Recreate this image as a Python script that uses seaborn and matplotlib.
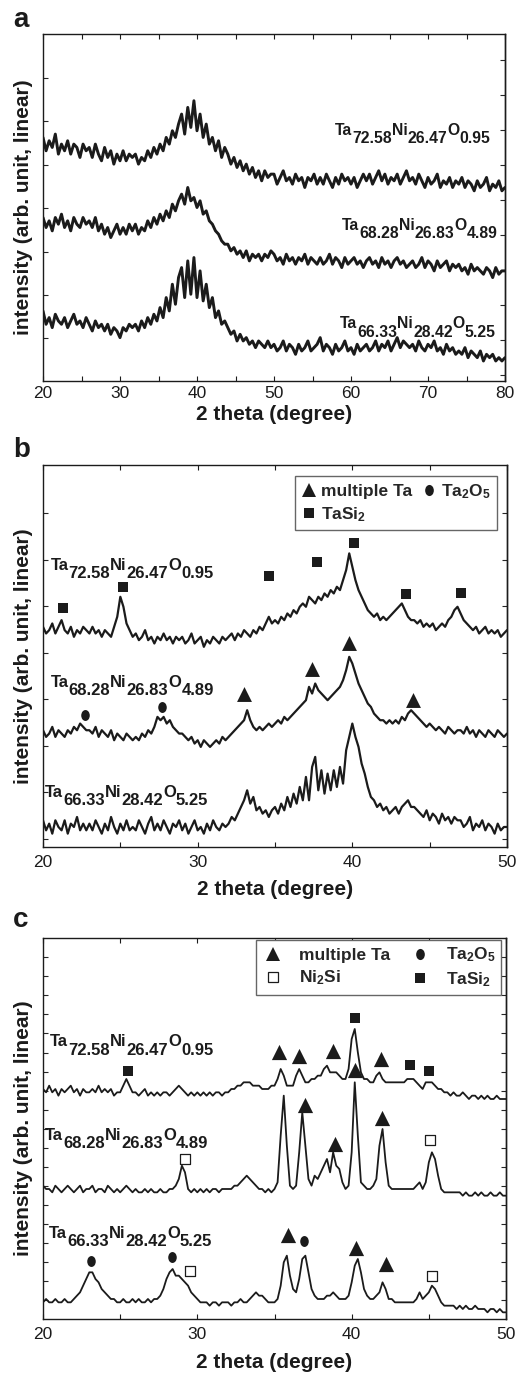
import numpy as np
import pandas as pd
import matplotlib
matplotlib.use("Agg")
import matplotlib.pyplot as plt
from matplotlib.lines import Line2D
from matplotlib.path import Path
from matplotlib.transforms import Affine2D
import seaborn as sns

# %%
# panel a : 2 theta 20-80, one reading every 0.4 deg
a_x = np.linspace(20, 80, 151)
a_top = [
  73,69,72,70,74,68,71,69,72,68,71,70,67,71,69,
  70,67,71,68,66,70,67,69,65,68,66,69,66,68,67,
  68,65,67,66,69,67,70,68,71,69,73,71,75,73,77,
  80,74,82,76,84,75,80,73,77,71,73,69,72,67,70,
  68,65,67,64,66,63,65,62,64,61,63,60,63,61,62,
  62,59,61,63,60,61,59,62,60,61,58,61,60,62,59,
  61,59,62,60,58,61,59,62,60,61,59,61,58,60,62,
  60,62,59,61,63,60,62,59,61,60,62,59,61,63,60,
  61,59,62,60,58,61,59,60,62,58,60,59,61,58,60,
  59,61,58,60,59,57,60,58,59,61,57,59,58,60,57,
  58]
a_mid = [
  49,46,48,45,49,47,50,46,48,45,49,47,46,49,47,
  48,46,49,45,47,44,46,43,45,47,44,46,44,47,45,
  47,44,46,45,48,46,49,47,50,48,51,49,53,51,54,
  56,53,58,54,55,52,54,50,51,48,47,45,44,42,41,
  41,39,40,38,39,37,39,36,38,37,38,36,38,37,39,
  38,36,37,35,38,36,37,35,37,36,38,35,37,36,35,
  37,35,36,38,35,37,36,34,37,35,36,37,35,36,34,
  36,37,35,36,34,37,35,36,34,36,37,35,36,34,35,
  36,34,35,37,34,36,35,33,36,34,35,36,33,35,34,
  35,33,34,32,35,33,34,33,32,34,33,31,34,32,33,
  33]
a_bot = [
  21,17,19,16,20,18,17,19,16,18,20,17,18,16,19,
  17,15,18,16,17,15,17,14,16,15,13,16,15,17,16,
  17,15,18,16,19,17,20,18,22,19,25,21,29,23,31,
  34,25,36,26,37,25,33,24,29,22,25,19,21,17,18,
  16,14,15,12,14,12,13,11,12,10,12,11,10,12,10,
  11,9,10,12,9,11,10,8,11,9,10,12,9,10,11,
  13,9,11,10,8,11,9,10,12,9,10,8,11,9,10,
  11,9,10,12,9,11,10,12,9,11,13,10,12,11,10,
  11,9,12,10,9,11,10,12,9,10,8,11,9,10,8,
  9,8,10,7,9,8,7,9,6,8,7,8,6,7,6,
  7]

# %%
# panels b, c : 2 theta 20-50, one reading every 0.2 deg
bc_x = np.linspace(20, 50, 151)
b_top = [
  66,64,65,67,64,66,68,65,64,66,63,65,64,66,65,
  64,66,64,65,63,65,64,63,66,69,75,72,67,65,63,
  64,62,63,65,62,63,61,63,62,64,62,63,61,63,62,
  63,61,62,64,61,62,63,60,62,61,63,62,61,63,62,
  63,64,62,64,63,65,64,63,65,64,66,65,67,69,67,
  68,67,69,68,70,69,71,70,72,73,72,75,74,73,75,
  74,76,75,77,76,78,77,80,83,88,84,80,77,75,73,
  71,70,69,70,68,69,68,69,70,71,72,73,71,69,68,
  68,67,68,66,67,66,67,65,66,67,66,68,69,71,72,
  70,68,67,66,65,66,64,65,66,64,65,64,65,63,64,
  65]
b_mid = [
  35,33,34,36,33,35,34,33,35,34,36,35,37,36,35,
  35,34,36,33,35,34,33,35,32,34,33,32,34,33,32,
  33,32,34,33,35,34,36,39,38,39,37,38,36,35,34,
  34,33,32,33,31,32,30,32,31,30,31,32,31,33,32,
  33,34,35,36,37,38,41,38,36,35,36,35,36,37,36,
  37,38,37,39,38,39,40,41,42,43,44,48,46,49,47,
  46,45,44,45,46,47,48,50,53,57,55,52,49,47,45,
  43,42,40,39,38,38,37,38,37,38,37,39,38,40,41,
  40,39,38,37,36,37,36,35,36,35,34,36,35,34,35,
  35,34,36,34,35,33,35,34,33,35,34,33,35,34,33,
  34]
b_bot = [
  8,5,7,4,8,6,5,8,4,7,6,9,5,7,5,
  7,5,8,6,4,7,5,9,6,4,7,5,8,5,6,
  5,8,6,4,7,9,5,7,5,8,6,4,7,6,8,
  5,7,4,6,8,5,6,4,7,5,8,6,5,7,6,
  7,9,8,10,12,14,17,13,15,11,12,10,11,9,11,
  12,10,13,11,15,12,16,13,18,14,21,14,24,27,17,
  23,16,22,17,23,18,24,19,29,33,37,33,30,25,22,
  18,15,14,12,13,11,12,10,11,12,10,12,13,14,12,
  12,11,10,9,11,8,10,9,7,10,8,9,7,9,8,
  8,6,7,9,5,7,6,8,5,7,6,4,7,5,6,
  6]
c_top = [
  69,68,70,68,69,67,69,68,69,70,68,69,67,69,68,
  68,69,68,70,68,69,68,69,67,68,68,70,72,70,68,
  68,67,68,69,67,68,67,68,67,68,68,67,68,69,70,
  69,68,67,68,67,68,67,68,67,68,67,68,68,67,68,
  68,69,69,70,70,71,71,71,70,70,70,69,69,69,70,
  70,72,75,73,70,70,70,73,75,73,71,71,72,72,73,
  73,75,76,74,74,74,73,72,72,75,84,87,80,74,72,
  72,71,71,73,74,72,71,71,71,71,71,71,71,72,72,
  72,71,70,69,71,71,71,70,69,69,68,68,67,68,67,
  67,68,67,66,67,67,66,67,66,67,66,66,67,66,66,
  66]
c_mid = [
  40,39,39,38,40,39,38,39,40,39,38,39,40,38,39,
  39,40,38,39,39,38,40,39,38,39,38,39,40,39,38,
  39,38,38,39,38,39,38,38,39,38,38,39,39,40,42,
  46,44,39,38,39,38,39,38,39,38,39,39,38,39,39,
  39,39,40,40,41,42,43,42,41,40,39,39,38,39,38,
  39,41,55,67,52,40,39,40,50,62,52,42,40,43,42,
  44,46,48,44,50,46,45,41,39,40,50,71,55,41,40,
  39,39,40,42,52,57,47,40,39,39,39,39,39,39,39,
  39,40,41,39,41,47,50,48,43,39,38,38,38,38,38,
  38,37,38,37,37,38,37,38,37,37,38,37,37,38,37,
  37]
c_bot = [
  5,6,5,5,6,5,5,6,5,5,6,7,8,10,12,
  14,14,12,11,9,8,7,6,6,5,5,6,5,5,6,
  5,6,5,5,6,5,6,6,7,9,12,14,15,13,13,
  12,11,10,8,7,6,5,5,5,4,5,5,4,5,5,
  5,4,5,5,6,5,5,6,7,8,7,7,6,5,5,
  5,6,10,17,19,13,9,8,12,18,19,14,9,7,6,
  6,6,7,7,8,7,6,6,6,7,11,16,18,14,9,
  7,6,6,7,8,11,9,6,6,5,5,5,5,5,5,
  5,6,8,6,7,8,10,9,7,5,4,4,4,4,3,
  4,3,4,3,3,4,3,3,3,2,3,3,2,3,2,
  2]

# %%
# phase markers
b_tasi2_x = [21.3, 25.2, 34.6, 37.7, 40.1, 43.5, 47.0]
b_tasi2_y = [71.5, 78.0, 81.3, 85.5, 91.0, 75.8, 76.2]
b_ta_x = [33.0, 37.4, 39.8, 43.9]
b_ta_y = [46.0, 53.5, 61.0, 44.0]
b_ta2o5_x = [22.7, 27.7]
b_ta2o5_y = [39.7, 42.0]

c_ta_x = [35.3, 36.6, 38.8, 41.9, 40.2, 37.0, 38.9, 41.95, 35.9, 40.3, 42.2]
c_ta_y = [80.0, 78.8, 80.3, 78.0, 74.8, 64.3, 52.5, 60.3, 25.3, 21.3, 16.5]
c_tasi2_x = [25.5, 40.2, 43.8, 45.0]
c_tasi2_y = [74.5, 90.3, 76.1, 74.5]
c_ni2si_x = [29.2, 45.1, 29.5, 45.2]
c_ni2si_y = [48.0, 53.8, 14.3, 12.8]
c_ta2o5_x = [23.1, 28.35, 36.9]
c_ta2o5_y = [17.5, 18.6, 23.5]

samples = [
  ["Ta", "72.58", "Ni", "26.47", "O", "0.95"],
  ["Ta", "68.28", "Ni", "26.83", "O", "4.89"],
  ["Ta", "66.33", "Ni", "28.42", "O", "5.25"],
]

# %%
sns.set_style("ticks")
plt.rcParams["font.family"] = ["Liberation Sans", "DejaVu Sans"]
plt.rcParams["mathtext.fontset"] = "custom"
plt.rcParams["mathtext.rm"] = "Liberation Sans"
plt.rcParams["mathtext.bf"] = "Liberation Sans:bold"
plt.rcParams["mathtext.it"] = "Liberation Sans:italic"

INK = "#1b1b1b"
oval = Path.unit_circle().transformed(Affine2D().scale(0.78, 1.0))


def long_df(x, traces):
  return pd.concat(
    [pd.DataFrame({"x": x, "y": y, "trace": i}) for i, y in enumerate(traces)],
    ignore_index=True,
  )


def style_axes(ax, xmax, ymax, left_ticks, right_ticks, pad):
  ax.set_xlim(20, xmax)
  ax.set_ylim(0, ymax)
  ax.set_xticks(np.arange(20, xmax + 1, 10))
  ax.set_xticks(np.arange(20, xmax + 1, 5), minor=True)
  ax.set_yticks(left_ticks, labels=[""] * len(left_ticks))
  ax.tick_params(axis="x", which="both", direction="in", top=True, bottom=True,
                 length=3.5, width=0.8, labelsize=12.5, pad=pad, colors=INK)
  ax.tick_params(axis="y", direction="in", left=True, right=False, length=3.5, width=0.8)
  sec = ax.secondary_yaxis("right")
  sec.set_ticks(right_ticks, labels=[""] * len(right_ticks))
  sec.tick_params(axis="y", direction="in", length=3.5, width=0.8)
  for sp in list(ax.spines.values()) + list(sec.spines.values()):
    sp.set_color(INK)
    sp.set_linewidth(1.0)
  ax.set_xlabel("2 theta (degree)", fontsize=15, fontweight="bold", color=INK)
  ax.set_ylabel("intensity (arb. unit, linear)", fontsize=15, fontweight="bold", color=INK)


def formula(ax, x, y, parts, size=12, drop=6):
  txt = ax.text(x, y, parts[0], fontsize=size, fontweight="bold", color=INK,
                ha="left", va="baseline")
  for i, piece in enumerate(parts[1:]):
    dy = -drop if i % 2 == 0 else drop
    txt = ax.annotate(piece, xy=(1, 0), xycoords=txt, xytext=(0, dy),
                      textcoords="offset points", fontsize=size, fontweight="bold",
                      color=INK, ha="left", va="bottom")


def marks(ax, x, y, marker, s, fill=INK):
  sns.scatterplot(x=x, y=y, marker=marker, s=s, color=fill, edgecolor=INK,
                  linewidth=0.9 if fill == "white" else 0, ax=ax, zorder=4)


def key(marker, ms, fill=INK):
  return Line2D([], [], ls="none", marker=marker, markersize=ms, markerfacecolor=fill,
                markeredgecolor=INK, markeredgewidth=0.9 if fill == "white" else 0)


fig = plt.figure(figsize=(5.28, 13.75), dpi=100)
ax_a = fig.add_axes([43 / 528, 1 - 381 / 1375, 462 / 528, 347 / 1375])
ax_b = fig.add_axes([43 / 528, 1 - 847 / 1375, 464 / 528, 382 / 1375])
ax_c = fig.add_axes([43 / 528, 1 - 1319 / 1375, 463 / 528, 381 / 1375])

# %%
# a
sns.lineplot(data=long_df(a_x, [a_top, a_mid, a_bot]), x="x", y="y", units="trace",
             estimator=None, color=INK, linewidth=2.1, legend=False, ax=ax_a)
style_axes(ax_a, 80, 104, 12.8 + 13.0 * np.arange(7), 96.3 - 10.5 * np.arange(10), 3.5)
formula(ax_a, 57.9, 73.8, samples[0], size=11.3)
formula(ax_a, 58.8, 45.3, samples[1], size=11.3)
formula(ax_a, 58.6, 15.8, samples[2], size=11.3)
ax_a.xaxis.set_label_coords(0.5, -0.068)
ax_a.yaxis.set_label_coords(-0.022, 0.5)

# %%
# b
sns.lineplot(data=long_df(bc_x, [b_top, b_mid, b_bot]), x="x", y="y", units="trace",
             estimator=None, color=INK, linewidth=1.6, legend=False, ax=ax_b)
ticks_b = 2.5 + 13.93 * np.arange(8)
style_axes(ax_b, 50, 114.5, ticks_b, ticks_b, 5.5)
marks(ax_b, b_tasi2_x, b_tasi2_y, "s", 48)
marks(ax_b, b_ta_x, b_ta_y, "^", 115)
marks(ax_b, b_ta2o5_x, b_ta2o5_y, oval, 62)
formula(ax_b, 20.5, 83.0, samples[0])
formula(ax_b, 20.5, 48.0, samples[1])
formula(ax_b, 20.15, 15.0, samples[2])
ax_b.legend(
  handles=[key("^", 10.5), key("s", 7), key(oval, 8)],
  labels=["multiple Ta", r"TaSi$_\mathbf{2}$", r"Ta$_\mathbf{2}$O$_\mathbf{5}$"],
  ncol=2, loc="upper right", bbox_to_anchor=(0.978, 0.971), borderaxespad=0,
  prop={"size": 12.5, "weight": "bold"}, frameon=True, fancybox=False,
  edgecolor="#666666", framealpha=1, handlelength=0.9, handletextpad=0.25,
  columnspacing=0.5, labelspacing=0.35, borderpad=0.35,
)
ax_b.xaxis.set_label_coords(0.5, -0.086)
ax_b.yaxis.set_label_coords(-0.022, 0.5)

# %%
# c
sns.lineplot(data=long_df(bc_x, [c_top, c_mid, c_bot]), x="x", y="y", units="trace",
             estimator=None, color=INK, linewidth=1.3, legend=False, ax=ax_c)
ticks_c = 5.58 + 5.72 * np.arange(19)
style_axes(ax_c, 50, 114.3, ticks_c, ticks_c, 5.5)
marks(ax_c, c_ta_x, c_ta_y, "^", 120)
marks(ax_c, c_tasi2_x, c_tasi2_y, "s", 55)
marks(ax_c, c_ni2si_x, c_ni2si_y, "s", 50, fill="white")
marks(ax_c, c_ta2o5_x, c_ta2o5_y, oval, 62)
formula(ax_c, 20.47, 81.8, samples[0])
formula(ax_c, 20.15, 53.8, samples[1])
formula(ax_c, 20.4, 24.3, samples[2])
ax_c.legend(
  handles=[key("^", 10.5), key("s", 7, fill="white"), key(oval, 8), key("s", 7.5)],
  labels=["multiple Ta", r"Ni$_\mathbf{2}$Si", r"Ta$_\mathbf{2}$O$_\mathbf{5}$",
          r"TaSi$_\mathbf{2}$"],
  ncol=2, loc="upper right", bbox_to_anchor=(0.99, 0.996), borderaxespad=0,
  prop={"size": 12.5, "weight": "bold"}, frameon=True, fancybox=False,
  edgecolor="#666666", framealpha=1, handlelength=1.2, handletextpad=0.9,
  columnspacing=1.1, labelspacing=0.35, borderpad=0.35,
)
ax_c.xaxis.set_label_coords(0.5, -0.089)
ax_c.yaxis.set_label_coords(-0.022, 0.5)

# %%
for letter, ybase in [("a", 27), ("b", 457), ("c", 927)]:
  fig.text(13 / 528, 1 - ybase / 1375, letter, fontsize=20, fontweight="bold",
           color=INK, va="baseline", ha="left")

plt.savefig("out.png", dpi=100)
